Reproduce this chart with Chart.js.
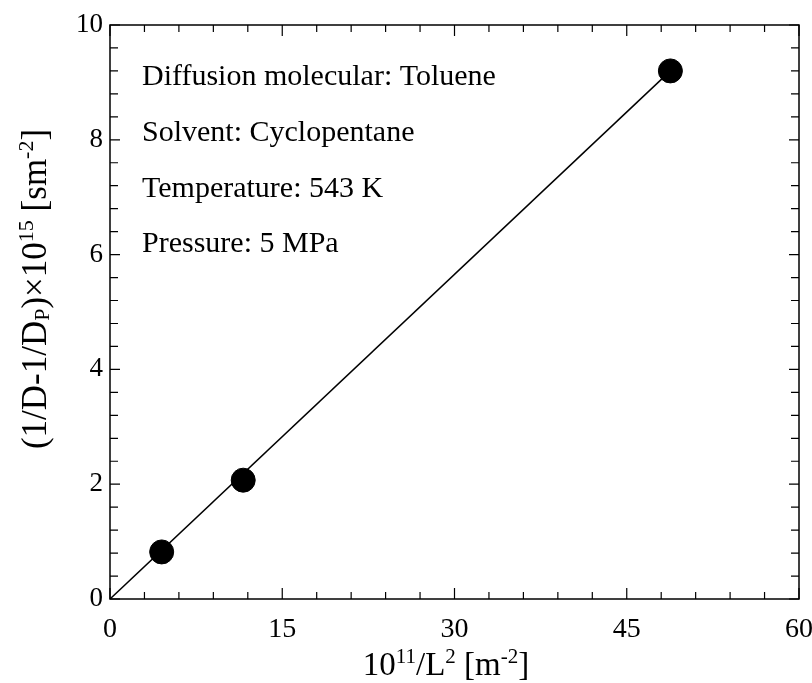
<!DOCTYPE html>
<html>
<head>
<meta charset="utf-8">
<script src="https://cdn.jsdelivr.net/npm/chart.js@4.4.1/dist/chart.umd.min.js"></script>
<style>
  html, body { margin: 0; padding: 0; background: #ffffff; }
  #wrap { width: 812px; height: 683px; }
</style>
</head>
<body>
<div id="wrap"><canvas id="chart" width="812" height="683"></canvas></div>
<script>
// Measured points: x = 10^11/L^2 [m^-2], y = (1/D - 1/D_P) x 10^15 [s m^-2]
const xValues = [4.5, 11.6, 48.8];
const yValues = [0.82, 2.07, 9.2];

// Straight-line fit through the origin
const fitX = [0, 48.8];
const fitY = [0, 9.2];

// Axis tick labels
const xTicks = [0, 15, 30, 45, 60];
const yTicks = [0, 2, 4, 6, 8, 10];

// Experimental conditions listed in the plot
const notes = [
  'Diffusion molecular: Toluene',
  'Solvent: Cyclopentane',
  'Temperature: 543 K',
  'Pressure: 5 MPa'
];

const FONT = '"Liberation Serif", "Times New Roman", serif';

// Draws a run of text pieces (normal / super / subscript) centred on x
function drawRich(ctx, parts, x, y) {
  let total = 0;
  parts.forEach(p => {
    ctx.font = p.size + 'px ' + FONT;
    p.w = ctx.measureText(p.t).width;
    total += p.w;
  });
  let cx = x - total / 2;
  ctx.textAlign = 'left';
  ctx.textBaseline = 'alphabetic';
  parts.forEach(p => {
    ctx.font = p.size + 'px ' + FONT;
    ctx.fillText(p.t, cx, y + (p.dy || 0));
    cx += p.w;
  });
}

const framePlugin = {
  id: 'frame',
  afterDraw(chart) {
    const ctx = chart.ctx;
    const a = chart.chartArea;
    const xs = chart.scales.x, ys = chart.scales.y;
    ctx.save();
    ctx.strokeStyle = '#000';
    ctx.fillStyle = '#000';
    ctx.lineWidth = 1.5;
    ctx.strokeRect(a.left, a.top, a.right - a.left, a.bottom - a.top);

    // inward ticks on all four sides
    ctx.lineWidth = 1.2;
    ctx.beginPath();
    for (let i = 0; i <= 20; i++) {
      const v = i * 3;
      const px = xs.getPixelForValue(v);
      const len = (v % 15 === 0) ? 11 : 7;
      ctx.moveTo(px, a.bottom); ctx.lineTo(px, a.bottom - len);
      ctx.moveTo(px, a.top); ctx.lineTo(px, a.top + len);
    }
    for (let i = 0; i <= 25; i++) {
      const v = i * 0.4;
      const py = ys.getPixelForValue(v);
      const len = (i % 5 === 0) ? 10 : 8;
      ctx.moveTo(a.left, py); ctx.lineTo(a.left + len, py);
      ctx.moveTo(a.right, py); ctx.lineTo(a.right - len, py);
    }
    ctx.stroke();

    // condition notes
    ctx.font = '30px ' + FONT;
    ctx.textAlign = 'left';
    ctx.textBaseline = 'alphabetic';
    const baselines = [85, 141, 197, 252];
    notes.forEach((t, i) => ctx.fillText(t, 142, baselines[i]));

    // x-axis title
    drawRich(ctx, [
      { t: '10', size: 33 },
      { t: '11', size: 21, dy: -12 },
      { t: '/L', size: 33 },
      { t: '2', size: 21, dy: -12 },
      { t: ' [m', size: 33 },
      { t: '-2', size: 21, dy: -12 },
      { t: ']', size: 33 }
    ], 446, 675);

    // y-axis title (rotated)
    ctx.save();
    ctx.translate(46, 289);
    ctx.rotate(-Math.PI / 2);
    drawRich(ctx, [
      { t: '(1/D-1/D', size: 35 },
      { t: 'P', size: 22, dy: 3 },
      { t: ')\u00d710', size: 35 },
      { t: '15', size: 22, dy: -13 },
      { t: ' [sm', size: 35 },
      { t: '-2', size: 22, dy: -13 },
      { t: ']', size: 35 }
    ], 0, 0);
    ctx.restore();

    ctx.restore();
  }
};

new Chart(document.getElementById('chart'), {
  type: 'scatter',
  data: {
    datasets: [
      {
        type: 'line',
        data: fitX.map((x, i) => ({ x: x, y: fitY[i] })),
        borderColor: '#000',
        borderWidth: 1.5,
        pointRadius: 0,
        fill: false,
        order: 2
      },
      {
        data: xValues.map((x, i) => ({ x: x, y: yValues[i] })),
        backgroundColor: '#000',
        borderColor: '#000',
        pointRadius: 12,
        pointHoverRadius: 12,
        order: 1
      }
    ]
  },
  options: {
    responsive: false,
    animation: false,
    events: [],
    layout: { padding: { left: 0, right: 13, top: 25, bottom: 0 } },
    plugins: { legend: { display: false }, tooltip: { enabled: false } },
    scales: {
      x: {
        type: 'linear',
        min: 0, max: 60,
        afterBuildTicks: s => { s.ticks = xTicks.map(v => ({ value: v })); },
        afterFit: s => { s.height = 84; s.paddingLeft = 0; s.paddingRight = 0; },
        grid: { display: false, drawTicks: false },
        border: { display: false },
        ticks: { color: '#000', font: { family: FONT, size: 28 }, padding: 14, maxRotation: 0 }
      },
      y: {
        type: 'linear',
        min: 0, max: 10,
        afterBuildTicks: s => { s.ticks = yTicks.map(v => ({ value: v })); },
        afterFit: s => { s.width = 110; s.paddingTop = 0; s.paddingBottom = 0; },
        grid: { display: false, drawTicks: false },
        border: { display: false },
        ticks: { color: '#000', font: { family: FONT, size: 27 }, padding: 7 }
      }
    }
  },
  plugins: [framePlugin]
});
</script>
</body>
</html>
